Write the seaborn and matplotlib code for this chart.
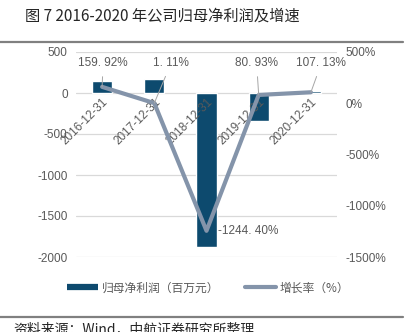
import matplotlib
matplotlib.use("Agg")
import matplotlib.pyplot as plt
from matplotlib.lines import Line2D
import seaborn as sns
import pandas as pd

# 归母净利润（百万元）与同比增长率（%）
dates = ["2016-12-31", "2017-12-31", "2018-12-31", "2019-12-31", "2020-12-31"]
profit = [150, 168, -1872, -345, 28]
growth = [159.92, 1.11, -1244.40, 80.93, 107.13]
left_ticks = [500, 0, -500, -1000, -1500, -2000]
right_ticks = [500, 0, -500, -1000, -1500]

sns.set_theme(style="white")
plt.rcParams["font.family"] = ["Liberation Sans", "Noto Sans CJK SC", "DejaVu Sans"]
plt.rcParams["axes.unicode_minus"] = True

BAR = "#0d4a6e"
LINE = "#8494aa"
GRID = "#d9d9d9"
TXT = "#595959"

df = pd.DataFrame({"date": dates, "profit": profit, "growth": growth})

fig = plt.figure(figsize=(4.16, 3.32), dpi=100)
ax = fig.add_axes([76 / 416, 1 - 257 / 332, 261 / 416, 205 / 332])
ax.set_axisbelow(False)

sns.barplot(data=df, x="date", y="profit", color=BAR, width=0.39,
            saturation=1, ax=ax, zorder=2)
ax.set_ylim(-2000, 500)
ax.set_yticks(left_ticks)
ax.set_yticklabels([str(t) for t in left_ticks])
ax.set_xlim(-0.5, 4.5)
ax.set_xlabel("")
ax.set_ylabel("")
for t in left_ticks:
    ax.axhline(t, color=GRID, lw=0.9, zorder=0)
for s in ax.spines.values():
    s.set_visible(False)
# category axis crosses the value axis at zero
ax.spines["bottom"].set_position(("data", 0))
ax.tick_params(axis="y", length=0, labelsize=8.5, labelcolor=TXT, pad=6)
ax.tick_params(axis="x", which="major", length=0, labelsize=8.5,
               labelcolor=TXT, pad=2)
ax.set_xticks([0.5, 1.5, 2.5, 3.5], minor=True)
ax.tick_params(axis="x", which="minor", length=3, direction="in",
               color=GRID, width=0.9)
for lab in ax.get_xticklabels():
    lab.set_rotation(45)
    lab.set_ha("right")
    lab.set_va("top")
    lab.set_rotation_mode("anchor")

ax2 = ax.twinx()
sns.lineplot(x=list(range(len(dates))), y=growth, color=LINE, lw=3,
             sort=False, ax=ax2, zorder=3)
ax2.set_ylim(-1500, 500)
ax2.set_yticks(right_ticks)
ax2.set_yticklabels([f"{t}%" for t in right_ticks])
ax2.tick_params(axis="y", length=0, labelsize=8.5, labelcolor=TXT, pad=6)
for s in ax2.spines.values():
    s.set_visible(False)
ax2.grid(False)

def pct(v):
    return f"{v:.2f}%".replace(".", ". ")

label_pos = [(0.02, 390), (1.32, 390), None, (2.96, 390), (4.2, 390)]
for i, v in enumerate(growth):
    if label_pos[i] is None:
        ax2.annotate(pct(v), xy=(i, v), xytext=(i + 0.22, v),
                     ha="left", va="center", fontsize=8.5, color=TXT)
    else:
        ax2.annotate(pct(v), xy=(i, v), xytext=label_pos[i],
                     ha="center", va="center", fontsize=8.5, color=TXT,
                     arrowprops=dict(arrowstyle="-", color="#a6a6a6", lw=0.7,
                                     shrinkA=3, shrinkB=0))

handles = [
    Line2D([], [], color=BAR, lw=4.5, solid_capstyle="butt"),
    Line2D([], [], color=LINE, lw=3, solid_capstyle="round"),
]
fig.legend(handles, ["归母净利润（百万元）", "增长率（%）"],
           loc="center", bbox_to_anchor=(208 / 416, 1 - 288 / 332),
           ncol=2, frameon=False, handlelength=2.6, handletextpad=0.3,
           columnspacing=2.2,
           prop={"family": ["Noto Sans CJK SC"], "size": 8.5},
           labelcolor=TXT)

fig.text(25 / 416, 1 - 16 / 332, "图 7 2016-2020 年公司归母净利润及增速",
         family=["Noto Sans CJK SC"], fontsize=11, color="#262626",
         ha="left", va="center")
fig.add_artist(Line2D([0, 403 / 416], [1 - 42 / 332] * 2, color="#808080", lw=1.6))
fig.add_artist(Line2D([0, 403 / 416], [1 - 317 / 332] * 2, color="#808080", lw=1.6))
fig.text(13 / 416, 1 - 329 / 332, "资料来源：Wind，中航证券研究所整理",
         family=["Noto Sans CJK SC"], fontsize=10, color="#262626",
         ha="left", va="center")

fig.savefig("out.png", dpi=100)
